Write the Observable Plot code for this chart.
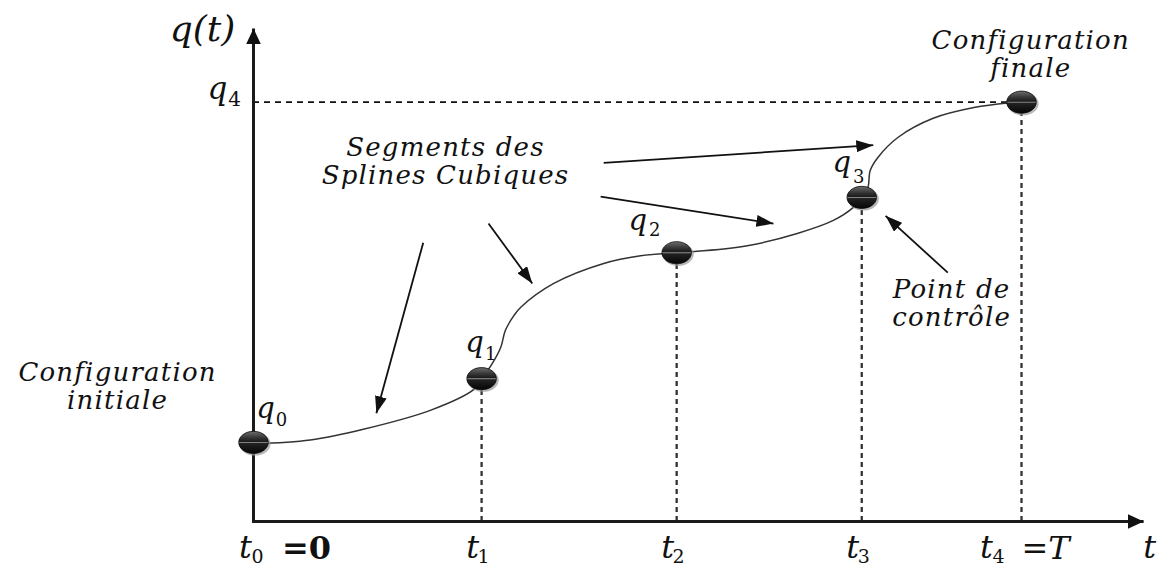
<!DOCTYPE html>
<html><head><meta charset="utf-8">
<script src="https://cdn.jsdelivr.net/npm/d3@7"></script>
<script src="https://cdn.jsdelivr.net/npm/@observablehq/plot@0.6"></script>
<style>html,body{margin:0;background:#fff}#chart svg{display:block}</style>
</head><body><div id="chart"></div>
<script>
// ---- data (chart units: t from 0 to T=100, q on the same scale) ----
const knotT = [0, 29.7, 55.1, 79.2, 100];
const knotQ = [10.3, 18.6, 35.0, 42.2, 54.6];
const knotSub = ["0", "1", "2", "3", "4"];

const seg0T = [0, 7.4, 14.3, 23.1, 28.7, 29.7];
const seg0Q = [10.1, 10.6, 12.0, 14.5, 17.2, 18.6];
const seg1T = [29.7, 31.1, 32.2, 32.8, 33.9, 34.8, 39.1, 45.6, 50.4, 55.1];
const seg1Q = [18.6, 20.6, 22.7, 24.9, 26.8, 27.9, 31.0, 33.6, 34.6, 35.0];
const seg2T = [55.1, 56.9, 64.3, 70.8, 75.5, 78.1, 79.2];
const seg2Q = [35.0, 35.1, 35.9, 37.5, 39.2, 40.9, 42.2];
const seg3T = [79.2, 80.0, 80.3, 81.3, 83.9, 88.5, 93.8, 98.2, 100];
const seg3Q = [42.2, 43.5, 45.7, 47.4, 50.0, 52.5, 53.9, 54.5, 54.6];

const annotText = ["Configuration\ninitiale", "Segments des\nSplines Cubiques", "Configuration\nfinale", "Point de\ncontrôle"];
const annotT = [-17.7, 25.0, 101.2, 90.9];
const annotQ = [17.6, 46.9, 60.9, 28.5];

const arrowT1 = [22.1, 30.6, 45.2, 45.6, 90.4];
const arrowQ1 = [36.3, 38.8, 42.3, 46.7, 32.4];
const arrowT2 = [16.0, 36.3, 67.7, 80.7, 82.3];
const arrowQ2 = [14.1, 31.0, 38.8, 49.0, 39.8];

const axisTmax = 115.9, axisQmax = 64.2;

// ---- layout ----
const W = 1168, H = 567, ox = 253, oy = 521, unit = 7.68;
const xDomain = [-ox / unit, (W - ox) / unit];
const yDomain = [-(H - oy) / unit, oy / unit];
const mathFont = "DejaVu Serif";
const annFont = "DejaVu Serif";
// q label offsets (px) : [letter dx, dy, sub dx, dy]
const qOff = [[12, -34, 28, -22], [-7, -36, 9, -24], [-39, -32, -22, -22], [-20, -35, -3, -20]];

const segs = [[seg0T, seg0Q], [seg1T, seg1Q], [seg2T, seg2Q], [seg3T, seg3Q]];

const ellipse = {
  draw(ctx, size) {
    const r = Math.sqrt(size / Math.PI), rx = r * 1.2, ry = r * 0.9, k = 0.5523;
    ctx.moveTo(rx, 0);
    ctx.bezierCurveTo(rx, ry * k, rx * k, ry, 0, ry);
    ctx.bezierCurveTo(-rx * k, ry, -rx, ry * k, -rx, 0);
    ctx.bezierCurveTo(-rx, -ry * k, -rx * k, -ry, 0, -ry);
    ctx.bezierCurveTo(rx * k, -ry, rx, -ry * k, rx, 0);
    ctx.closePath();
  }
};

const txt = (t, q, text, dx, dy, size, italic = true, extra = {}) =>
  Plot.text([text], {x: () => t, y: () => q, text: d => d, dx, dy, fontSize: size,
    fontFamily: mathFont, fontStyle: italic ? "italic" : "normal", fill: "#111", lineAnchor: "middle", ...extra});

const marks = [];
// dashed guides
marks.push(Plot.ruleY([knotQ[4]], {x1: 0, x2: knotT[4], stroke: "#111", strokeWidth: 1.6, strokeDasharray: "6,5"}));
marks.push(Plot.ruleX(knotT.slice(1), {x: d => d, y1: 0, y2: (d, i) => knotQ[i + 1], stroke: "#333", strokeWidth: 2.3, strokeDasharray: "5,4"}));
// axes
marks.push(Plot.link([{x1: -0.2, y1: 0, x2: axisTmax, y2: 0}, {x1: 0, y1: 0, x2: 0, y2: axisQmax}],
  {x1: "x1", y1: "y1", x2: "x2", y2: "y2", stroke: "#1a1a1a", strokeWidth: 3}));
// spline segments
segs.forEach(([T, Q]) => marks.push(Plot.line(T.map((t, i) => [t, Q[i]]), {x: d => d[0], y: d => d[1], curve: "catmull-rom", stroke: "#333", strokeWidth: 1.5})));
// annotation arrows
marks.push(Plot.link(arrowT1, {x1: arrowT1, y1: arrowQ1, x2: arrowT2, y2: arrowQ2, stroke: "#111", strokeWidth: 1.8}));
// control points
marks.push(Plot.dot(knotT, {x: knotT, y: knotQ, r: 13, symbol: ellipse, fill: "#9a9a9a", fillOpacity: 0.7, dx: 1.5, dy: 1.5}));
marks.push(Plot.dot(knotT, {x: knotT, y: knotQ, r: 12.3, symbol: ellipse, fill: "url(#ball)", stroke: "#0a0a0a", strokeWidth: 0.8}));
// annotation text
marks.push(Plot.text(annotText, {x: annotT, y: annotQ, text: d => d, fontFamily: annFont, fontStyle: "italic", fontSize: 26, lineHeight: 1.08, fill: "#111"}));
// math labels
for (let i = 0; i < 4; i++) {
  const [a, b, c, d] = qOff[i];
  marks.push(txt(knotT[i], knotQ[i], "q", a, b, 29));
  marks.push(txt(knotT[i], knotQ[i], knotSub[i], c, d, 18, false));
}
marks.push(txt(0, knotQ[4], "q", -36, -13, 31));
marks.push(txt(0, knotQ[4], knotSub[4], -19, -3, 20, false));
marks.push(txt(0, axisQmax, "q(t)", -51, 1, 36));
// t labels
const tDx = [[-8, 4], [-9, 2], [-9, 2], [-9, 2], [-35, -23]];
for (let i = 0; i < 5; i++) {
  marks.push(txt(knotT[i], 0, "t", tDx[i][0], 26, 32));
  marks.push(txt(knotT[i], 0, knotSub[i], tDx[i][1], 35, 19, false));
}
marks.push(txt(0, 0, "=0", 53, 27, 32, false, {fontWeight: "bold"}));
marks.push(txt(knotT[4], 0, "=T", 24, 27, 32, true));
marks.push(txt(axisTmax, 0, "t", 6, 26, 32));

const chart = Plot.plot({
  width: W, height: H, margin: 0,
  x: {domain: xDomain, axis: null},
  y: {domain: yDomain, axis: null},
  style: {background: "#fff"},
  marks
});

// defs: gradient + arrowheads
const svg = d3.select(chart);
const defs = svg.insert("defs", ":first-child");
const g = defs.append("linearGradient").attr("id", "ball").attr("x1", 0).attr("y1", 0).attr("x2", 0).attr("y2", 1);
[[0, "#6e6e6e"], [0.3, "#333"], [0.46, "#1c1c1c"], [0.5, "#8a8a8a"], [0.55, "#222"], [1, "#050505"]]
  .forEach(([o, c]) => g.append("stop").attr("offset", o).attr("stop-color", c));
function head(id, len, wid) {
  defs.append("marker").attr("id", id).attr("viewBox", `0 0 ${len} ${wid}`).attr("refX", len).attr("refY", wid / 2)
    .attr("markerWidth", len).attr("markerHeight", wid).attr("markerUnits", "userSpaceOnUse").attr("orient", "auto")
    .append("path").attr("d", `M0,0L${len},${wid / 2}L0,${wid}Z`).attr("fill", "#111");
}
head("axh", 16, 15);
head("anh", 17, 12);
const links = svg.selectAll('g[aria-label="link"]').nodes();
d3.select(links[0]).selectAll("path").attr("marker-end", "url(#axh)");
d3.select(links[1]).selectAll("path").attr("marker-end", "url(#anh)");
svg.selectAll('g[aria-label="text"]').filter(function () { return this.getAttribute("font-size") === "26"; }).attr("letter-spacing", 1.2);
document.getElementById("chart").appendChild(chart);
</script></body></html>
